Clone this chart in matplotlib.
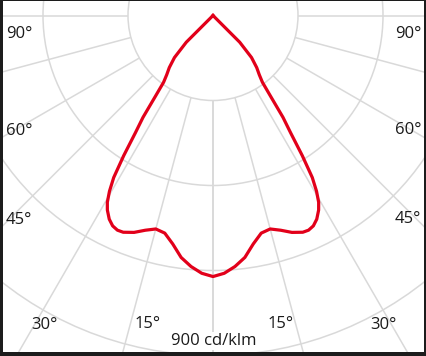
import numpy as np
import matplotlib
matplotlib.use("Agg")
import matplotlib.pyplot as plt
from matplotlib.patches import Circle

# luminous intensity distribution (symmetric), gamma in degrees from nadir
gamma = [0, 2.5, 5, 7.5, 10, 12.5, 15, 17.5, 20, 22.5, 24, 25.5, 27, 28.5,
         29.5, 30.5, 31.5, 32.5, 33.5, 34.5, 35.5, 36.5, 38, 40, 42.5, 45,
         47.5, 60, 90, 180]
intensity = [691, 683, 667, 646, 614, 590, 585, 596, 611, 621, 622, 617, 605,
             586, 568, 540, 503, 440, 372, 327, 262, 220, 199, 180, 151, 100,
             0, 0, 0, 0]

grid_radii = [225, 450, 675, 900]
grid_angles = [0, 15, 30, 45, 60, 75, 90, 105, 120, 135, 150, 165]
unit_label = "900 cd/klm"

# angle labels: (text, x px, y px) as placed in the picture
angle_labels = [
    ("90°", 19, 34), ("60°", 19, 131), ("45°", 19, 220),
    ("30°", 44, 325), ("15°", 148, 324),
    ("90°", 408, 34), ("60°", 408, 130), ("45°", 408, 219),
    ("30°", 383, 325), ("15°", 281, 324),
]

W, H = 427, 356
RED = "#e2001a"
GRID = "#d9d9d9"
TXT = "#1a1a1a"

plt.rcParams["font.family"] = ["Open Sans", "DejaVu Sans"]

fig = plt.figure(figsize=(W / 100, H / 100), dpi=100, facecolor="#1c1c1c")
# white plot area inside a dark frame
left, right, top, bottom = 3, 424, 1, 352
ax = fig.add_axes([left / W, 1 - bottom / H, (right - left) / W, (bottom - top) / H])
ax.set_facecolor("white")
ax.set_xticks([])
ax.set_yticks([])
for sp in ax.spines.values():
    sp.set_visible(False)

# centre of the diagram in pixels, and cd/klm per pixel
cx, cy = 213, 15.5
k = 900 / 340
ax.set_xlim(-(cx - left) * k, (right - cx) * k)
ax.set_ylim(-(bottom - cy) * k, (cy - top) * k)

for r in grid_radii:
    ax.add_patch(Circle((0, 0), r, fill=False, color=GRID, lw=1.1, zorder=1))

r0, r1 = grid_radii[0], 1400
for a in grid_angles:
    t = np.radians(a)
    for s in (-1, 1):
        ax.plot([s * r0 * np.sin(t), s * r1 * np.sin(t)],
                [-r0 * np.cos(t), -r1 * np.cos(t)],
                color=GRID, lw=1.1, zorder=1, solid_capstyle="butt")

g = np.radians(np.array(gamma))
I = np.array(intensity, dtype=float)
x = np.concatenate([-(I * np.sin(g))[::-1], (I * np.sin(g))[1:]])
y = np.concatenate([-(I * np.cos(g))[::-1], -(I * np.cos(g))[1:]])
ax.plot(x, y, color=RED, lw=2.3, zorder=3, solid_joinstyle="round")

for txt, px, py in angle_labels:
    fig.text(px / W, 1 - py / H, txt, ha="center", va="center",
             fontsize=12, color=TXT)

fig.text(213.5 / W, 1 - 341 / H, unit_label, ha="center", va="center",
         fontsize=12, color=TXT,
         bbox=dict(facecolor="white", edgecolor="none", pad=1.0))

fig.savefig("out.png", dpi=100, facecolor=fig.get_facecolor())
